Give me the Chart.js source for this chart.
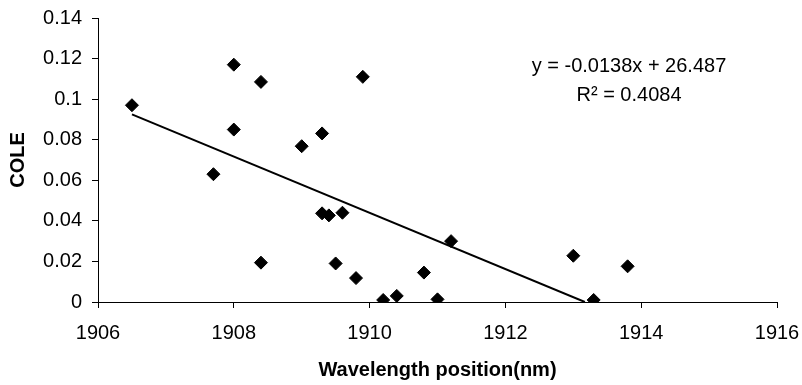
<!DOCTYPE html>
<html>
<head>
<meta charset="utf-8">
<script src="https://cdn.jsdelivr.net/npm/chart.js@4/dist/chart.umd.min.js"></script>
<style>
  html, body { margin: 0; padding: 0; background: #fff; }
  #wrap { width: 802px; height: 385px; }
</style>
</head>
<body>
<div id="wrap"><canvas id="chart" width="802" height="385"></canvas></div>
<script>
// wavelength position (nm) of each sample
const wavelength = [1906.5, 1907.7, 1908.0, 1908.0, 1908.4, 1908.4, 1909.0, 1909.3, 1909.9,
                    1909.3, 1909.4, 1909.6, 1909.5, 1909.8, 1910.2, 1910.4, 1910.8, 1911.0,
                    1911.2, 1913.0, 1913.3, 1913.8];
// COLE values
const cole = [0.097, 0.063, 0.117, 0.085, 0.1085, 0.0194, 0.0768, 0.0831, 0.111,
              0.0437, 0.0427, 0.044, 0.019, 0.0118, 0.001, 0.003, 0.0145, 0.0013,
              0.030, 0.0228, 0.001, 0.0176];

// linear trendline endpoints (as drawn, clipped at y = 0)
const trendX = [1906.5, 1913.17];
const trendY = [0.0925, 0];

const equationText = 'y = -0.0138x + 26.487';
const r2Text = 'R\u00B2 = 0.4084';

const font = '"Liberation Sans", Arial, sans-serif';

const equationLabel = {
    id: 'equationLabel',
    afterDraw(chart) {
        const ctx = chart.ctx;
        ctx.save();
        ctx.fillStyle = '#000';
        ctx.font = '20px ' + font;
        ctx.textAlign = 'center';
        ctx.textBaseline = 'middle';
        ctx.fillText(equationText, 629, 66);
        ctx.fillText(r2Text, 629, 95);
        ctx.restore();
    }
};

new Chart(document.getElementById('chart').getContext('2d'), {
    type: 'scatter',
    data: {
        datasets: [{
            label: 'COLE',
            data: wavelength.map((x, i) => ({ x: x, y: cole[i] })),
            pointStyle: 'rectRot',
            pointRadius: 6.5,
            pointBorderWidth: 1,
            backgroundColor: '#000',
            borderColor: '#000',
            order: 1
        }, {
            label: 'Linear',
            type: 'line',
            data: trendX.map((x, i) => ({ x: x, y: trendY[i] })),
            borderColor: '#000',
            borderWidth: 2,
            pointRadius: 0,
            fill: false,
            order: 2
        }]
    },
    plugins: [equationLabel],
    options: {
        responsive: false,
        animation: false,
        layout: { padding: { top: 18, right: 25, left: 0, bottom: 0 } },
        plugins: {
            legend: { display: false },
            tooltip: { enabled: false }
        },
        scales: {
            x: {
                type: 'linear',
                min: 1906,
                max: 1916,
                ticks: {
                    stepSize: 2,
                    color: '#000',
                    padding: 13,
                    font: { family: font, size: 20 },
                    callback: v => String(v)
                },
                grid: { drawOnChartArea: false, tickLength: 6, color: '#000' },
                border: { color: '#000', width: 1 },
                title: {
                    display: true,
                    text: 'Wavelength position(nm)',
                    color: '#000',
                    font: { family: font, size: 20, weight: 'bold' },
                    padding: { top: 0, bottom: 3 }
                },
                afterFit: s => {
                    s.height = 83;
                    s.paddingLeft = 0;
                    s.paddingRight = 0;
                }
            },
            y: {
                min: 0,
                max: 0.14,
                ticks: {
                    stepSize: 0.02,
                    color: '#000',
                    padding: 10,
                    font: { family: font, size: 20 },
                    callback: v => String(parseFloat(v.toFixed(2)))
                },
                grid: { drawOnChartArea: false, tickLength: 6, color: '#000' },
                border: { color: '#000', width: 1 },
                title: {
                    display: true,
                    text: 'COLE',
                    color: '#000',
                    font: { family: font, size: 20, weight: 'bold' },
                    padding: { top: 6, bottom: 0 }
                },
                afterFit: s => {
                    s.width = 98;
                    s.paddingTop = 0;
                    s.paddingBottom = 0;
                }
            }
        }
    }
});
</script>
</body>
</html>
